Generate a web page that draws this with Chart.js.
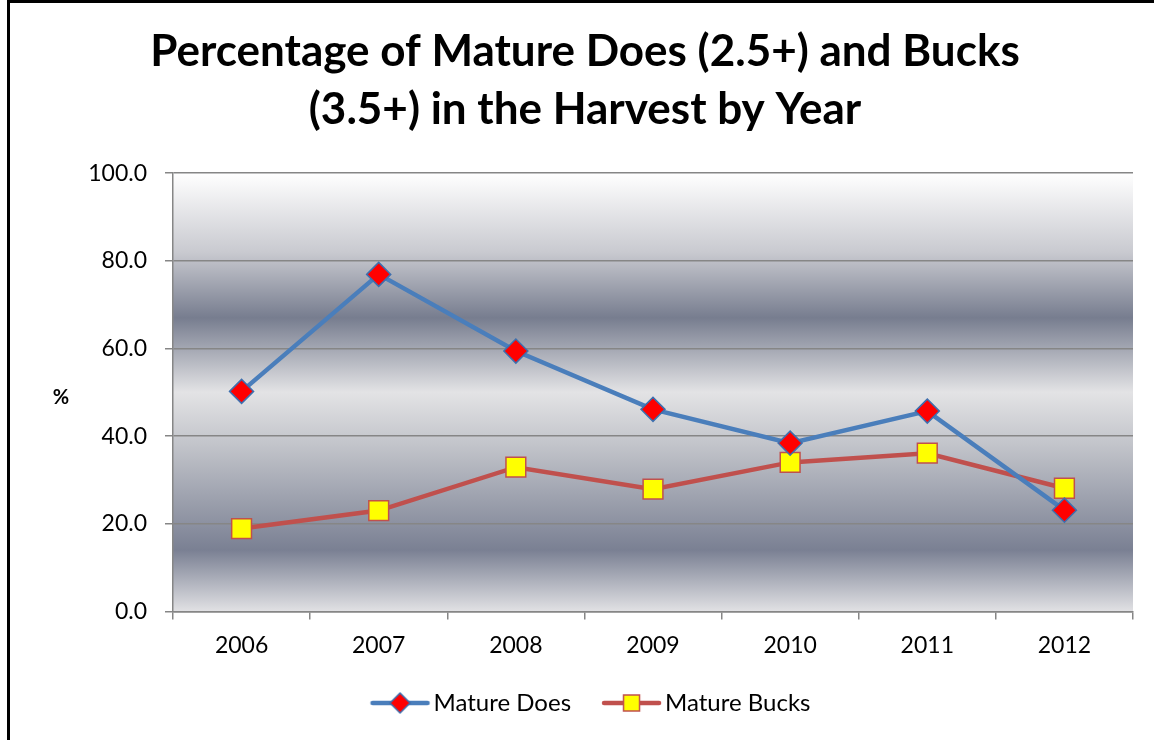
<!DOCTYPE html>
<html>
<head>
<meta charset="utf-8">
<script src="https://cdn.jsdelivr.net/npm/chart.js@4"></script>
<style>
  html, body { margin: 0; padding: 0; background: #fff; overflow: hidden; }
  #wrap { position: absolute; left: 0; top: 0; width: 1154px; height: 740px; }
  #frame { position: absolute; left: 7px; top: 0; width: 1170px; height: 770px;
           border: 3px solid #000; pointer-events: none; }
</style>
</head>
<body>
<div id="wrap"><canvas id="chart"></canvas></div>
<div id="frame"></div>
<script>
// ── Data ───────────────────────────────────────────────────────────────────
const years       = ["2006", "2007", "2008", "2009", "2010", "2011", "2012"];
const matureDoes  = [50.2, 76.9, 59.4, 46.1, 38.4, 45.7, 23.1];
const matureBucks = [18.9, 23.0, 32.9, 27.9, 34.0, 36.1, 28.1];
const yMin = 0, yMax = 100, yStep = 20;

const COLOURS = {
  does:      "#4a7ebb",
  doesEdge:  "#3e6fae",
  doesFill:  "#ff0000",
  bucks:     "#c0504d",
  bucksFill: "#ffff00",
  grid:      "#868686",
  text:      "#000000",
};
const FONT = "Lato, Calibri, Carlito, 'Open Sans', sans-serif";

// legend swatch: short line with the marker on it.
// The image is wider than the legend box so the line sits just left of the text.
const SWATCH_W = 100, SWATCH_H = 26;
function makeSwatch(lineColour, draw) {
  const c = document.createElement("canvas");
  c.width = SWATCH_W; c.height = SWATCH_H;
  const g = c.getContext("2d");
  const x0 = 32, x1 = 87, y = SWATCH_H / 2;
  g.strokeStyle = lineColour; g.lineWidth = 4.5; g.lineCap = "round";
  g.beginPath(); g.moveTo(x0, y); g.lineTo(x1, y); g.stroke();
  draw(g, (x0 + x1) / 2, y);
  return c;
}
const doesSwatch = makeSwatch(COLOURS.does, (g, x, y) => {
  g.beginPath(); g.moveTo(x, y - 10); g.lineTo(x + 10, y); g.lineTo(x, y + 10); g.lineTo(x - 10, y); g.closePath();
  g.fillStyle = COLOURS.doesFill; g.fill(); g.lineWidth = 1.5; g.strokeStyle = COLOURS.doesEdge; g.stroke();
});
const bucksSwatch = makeSwatch(COLOURS.bucks, (g, x, y) => {
  g.fillStyle = COLOURS.bucksFill; g.fillRect(x - 8, y - 8, 16, 16);
  g.lineWidth = 1.5; g.strokeStyle = COLOURS.bucks; g.strokeRect(x - 8, y - 8, 16, 16);
});

// silver banded plot-area fill, like the spreadsheet original
const plotBackground = {
  id: "plotBackground",
  beforeDraw(chart) {
    const { ctx, chartArea: a } = chart;
    const grad = ctx.createLinearGradient(0, a.top, 0, a.bottom);
    grad.addColorStop(0.00, "#ffffff");
    grad.addColorStop(0.18, "#c9cad0");
    grad.addColorStop(0.33, "#777d8f");
    grad.addColorStop(0.50, "#e3e3e5");
    grad.addColorStop(0.62, "#c2c4ca");
    grad.addColorStop(0.86, "#7a8093");
    grad.addColorStop(1.00, "#e1e1e4");
    ctx.save();
    ctx.fillStyle = grad;
    ctx.fillRect(a.left, a.top, a.right - a.left, a.bottom - a.top);
    ctx.restore();
  },
};

// horizontal "%" axis title at the left
const percentLabel = {
  id: "percentLabel",
  afterDraw(chart) {
    const { ctx, chartArea: a } = chart;
    ctx.save();
    ctx.font = "bold 20px " + FONT;
    ctx.fillStyle = COLOURS.text;
    ctx.textAlign = "center";
    ctx.textBaseline = "middle";
    ctx.fillText("%", 61, (a.top + a.bottom) / 2 + 5);
    ctx.restore();
  },
};

new Chart(document.getElementById("chart"), {
  type: "line",
  data: {
    labels: years,
    datasets: [
      {
        label: "Mature Does",
        data: matureDoes,
        borderColor: COLOURS.does,
        backgroundColor: COLOURS.doesFill,
        borderWidth: 4.5,
        pointStyle: "rectRot",
        pointRadius: 12,
        pointBorderColor: COLOURS.doesEdge,
        pointBorderWidth: 1.5,
        tension: 0,
      },
      {
        label: "Mature Bucks",
        data: matureBucks,
        borderColor: COLOURS.bucks,
        backgroundColor: COLOURS.bucksFill,
        borderWidth: 4.5,
        pointStyle: "rect",
        pointRadius: 14,
        pointBorderColor: COLOURS.bucks,
        pointBorderWidth: 1.5,
        tension: 0,
      },
    ],
  },
  options: {
    responsive: true,
    maintainAspectRatio: false,
    animation: false,
    layout: { padding: { left: 37, right: 21, top: 0, bottom: 15 } },
    plugins: {
      title: {
        display: true,
        text: ["Percentage of Mature Does (2.5+) and Bucks", "(3.5+) in the Harvest by Year"],
        color: COLOURS.text,
        font: { family: FONT, size: 44, weight: "bold", lineHeight: 1.32 },
        padding: { top: 23, bottom: 34 },
      },
      legend: {
        position: "bottom",
        labels: {
          color: COLOURS.text,
          font: { family: FONT, size: 24 },
          usePointStyle: true,
          pointStyleWidth: 62,
          padding: 20,
          generateLabels(chart) {
            const items = Chart.defaults.plugins.legend.labels.generateLabels(chart);
            items[0].pointStyle = doesSwatch;
            items[1].pointStyle = bucksSwatch;
            return items;
          },
        },
      },
      tooltip: { enabled: false },
    },
    scales: {
      x: {
        offset: true,
        grid: { offset: true, drawOnChartArea: false, color: COLOURS.grid, tickLength: 8, lineWidth: 1.5 },
        border: { color: COLOURS.grid, width: 1.5 },
        ticks: { color: COLOURS.text, font: { family: FONT, size: 23 }, padding: 12 },
      },
      y: {
        min: yMin,
        max: yMax,
        afterFit(scale) { scale.width = 136; },
        grid: { color: COLOURS.grid, tickLength: 8, lineWidth: 1.5 },
        border: { color: COLOURS.grid, width: 1.5 },
        ticks: {
          stepSize: yStep,
          color: COLOURS.text,
          font: { family: FONT, size: 23 },
          padding: 18,
          callback: (v) => Number(v).toFixed(1),
        },
      },
    },
  },
  plugins: [plotBackground, percentLabel],
});
</script>
</body>
</html>
